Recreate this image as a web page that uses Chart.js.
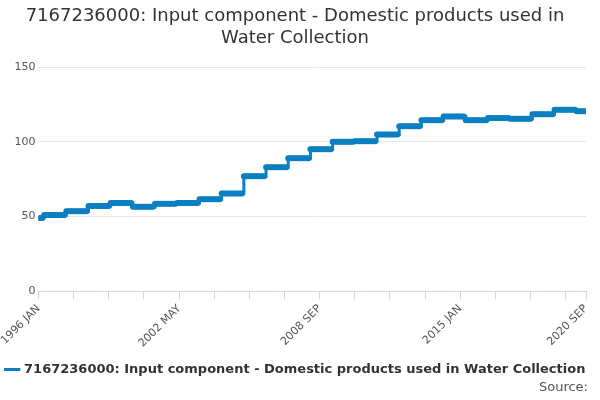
<!DOCTYPE html><html><head><meta charset="utf-8">
<script src="https://cdn.jsdelivr.net/npm/chart.js@4"></script>
<style>body{margin:0;background:#fff}#w{width:600px;height:400px;position:relative}#src{position:absolute;right:12px;bottom:6px;font:13px "DejaVu Sans";color:#555}</style>
</head><body><div id="w"><canvas id="c" width="600" height="400"></canvas><div id="src">Source:</div></div>
<script>
const startYear = 1996, startMonth = 0; // 1996 JAN
const monthNames = ["JAN","FEB","MAR","APR","MAY","JUN","JUL","AUG","SEP","OCT","NOV","DEC"];
const nMonths = 297;
// yearly values, each taking effect in April of the year (first = Jan-Mar 1996)
const stepYears = [1995,1996,1997,1998,1999,2000,2001,2002,2003,2004,2005,2006,2007,2008,2009,2010,2011,2012,2013,2014,2015,2016,2017,2018,2019,2020];
const stepValues = [49,51,53.5,57,59,56.5,58.5,59,61.5,65.5,77,83,89,95,100,100.5,105,110.5,114.5,117,114.5,116,115.5,118.5,121.5,120.5];
const labels = [], values = [];
for (let i=0;i<nMonths;i++){
  const y = startYear + Math.floor(i/12), m = i%12;
  labels.push(y+" "+monthNames[m]);
  const fy = m>=3 ? y : y-1;
  values.push(stepValues[stepYears.indexOf(fy)]);
}
const data = values.map((v,i)=>({x:i,y:v}));
new Chart(document.getElementById('c'),{type:'line',
data:{datasets:[{label:'7167236000: Input component - Domestic products used in Water Collection',data,
 borderColor:'#0a7fc2',backgroundColor:'#0a7fc2',borderWidth:3,pointRadius:1.5,stepped:true}]},
options:{responsive:false,animation:false,devicePixelRatio:1,
 layout:{padding:{left:4,right:14,bottom:14}},
 plugins:{title:{display:true,text:['7167236000: Input component - Domestic products used in','Water Collection'],color:'#333',font:{family:'DejaVu Sans',size:18,weight:'normal'},padding:{top:6,bottom:18}},
  legend:{position:'bottom',labels:{usePointStyle:true,pointStyle:'line',color:'#333',font:{family:'DejaVu Sans',size:13,weight:'bold'},boxWidth:20}},
  tooltip:{enabled:false}},
 scales:{x:{type:'linear',min:0,max:296,
   afterBuildTicks:a=>{a.ticks=[];for(let v=0;v<=296;v+=19)a.ticks.push({value:v});a.ticks.push({value:296});},
   ticks:{autoSkip:false,maxRotation:45,minRotation:45,color:'#555',font:{family:'DejaVu Sans',size:11},
    callback:v=>(v%76===0||v===296)?labels[v]:''},
   grid:{drawOnChartArea:false,tickLength:8,color:'#ccd6eb'},border:{color:'#ccd6eb'}},
  y:{min:0,max:150,ticks:{stepSize:50,color:'#555',font:{family:'DejaVu Sans',size:11}},grid:{color:'#e6e6e6',tickLength:0},border:{display:false}}}}
});
</script></body></html>
